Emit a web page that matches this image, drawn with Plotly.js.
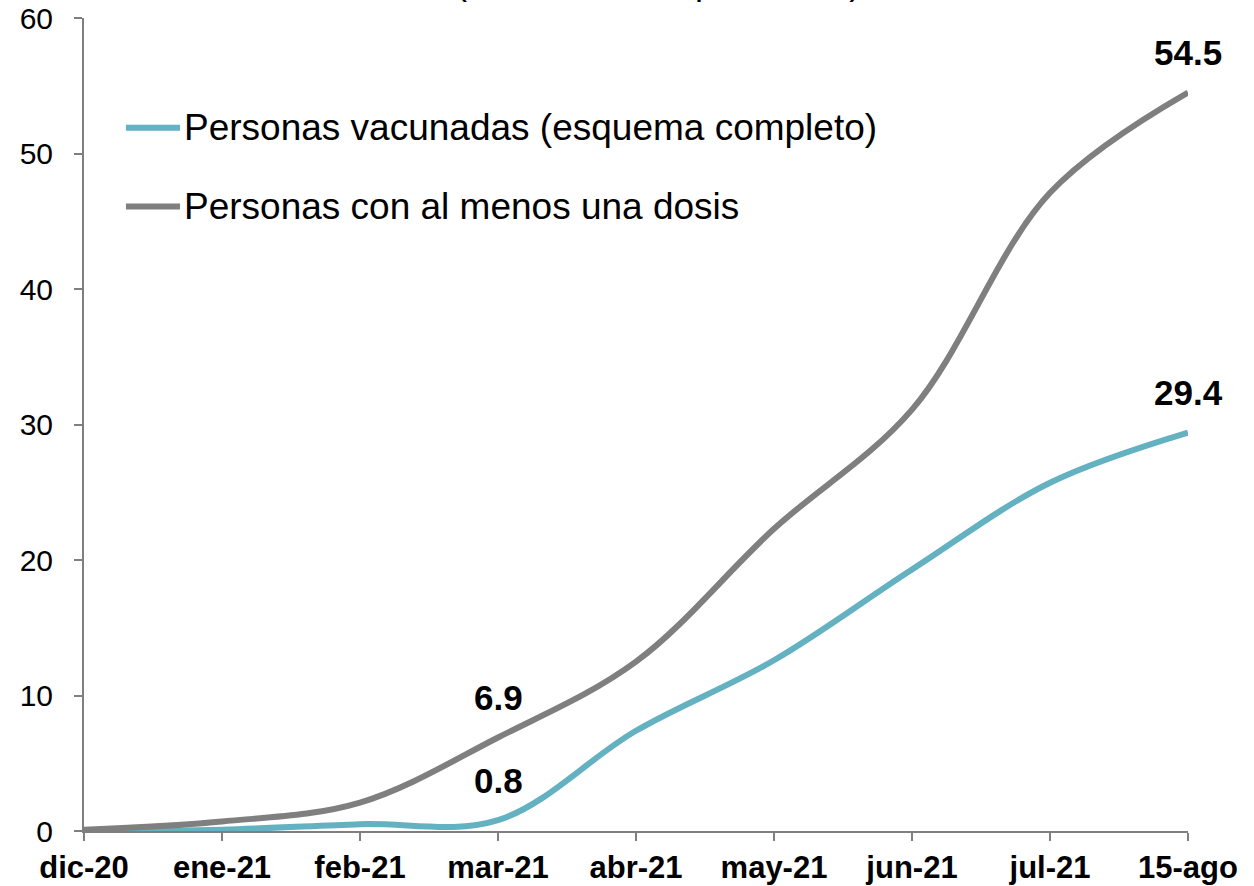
<!DOCTYPE html>
<html>
<head>
<meta charset="utf-8">
<script src="https://cdn.plot.ly/plotly-3.0.1.min.js"></script>
<style>html,body{margin:0;padding:0;background:#fff;}#chart{width:1254px;height:886px;}</style>
</head>
<body>
<div id="chart"></div>
<script>
const categories = ["dic-20","ene-21","feb-21","mar-21","abr-21","may-21","jun-21","jul-21","15-ago"];
const completos = [0.0, 0.1, 0.5, 0.8, 7.4, 12.6, 19.3, 25.7, 29.4];
const unaDosis = [0.1, 0.7, 2.1, 6.9, 12.5, 22.3, 31.1, 47.1, 54.5];
const seriesNames = ["Personas vacunadas (esquema completo)", "Personas con al menos una dosis"];
const labelIdx = [3, 8];
const yTicks = [0, 10, 20, 30, 40, 50, 60];

const cyan = "#64B1C1", gray = "#7F7F7F";
const FONT = "Liberation Sans, Arial, sans-serif";
const xIdx = categories.map((_, i) => i);

const traces = [
  {x: xIdx, y: completos, name: seriesNames[0], type: "scatter", mode: "lines",
   line: {color: cyan, width: 6, shape: "spline", smoothing: 1}, showlegend: false},
  {x: xIdx, y: unaDosis, name: seriesNames[1], type: "scatter", mode: "lines",
   line: {color: gray, width: 6, shape: "spline", smoothing: 1}, showlegend: false}
];

const annotations = [];
labelIdx.forEach(i => {
  [completos, unaDosis].forEach(s => {
    annotations.push({x: i, y: s[i], xref: "x", yref: "y", text: "<b>" + s[i].toFixed(1) + "</b>",
      showarrow: false, yshift: 40, font: {family: FONT, size: 35, color: "#000"}});
  });
});
// custom legend
const legY = [0.865, 0.768];
const shapes = [];
[cyan, gray].forEach((c, k) => {
  shapes.push({type: "line", xref: "paper", yref: "paper", x0: 0.038, x1: 0.087, y0: legY[k], y1: legY[k],
    line: {color: c, width: 6}});
  annotations.push({xref: "paper", yref: "paper", x: 0.089, y: legY[k], xanchor: "left", yanchor: "middle",
    text: seriesNames[k], showarrow: false, font: {family: FONT, size: 37, color: "#000"}});
});
// title (cut off at top of the image, as in the reference)
annotations.push({xref: "paper", yref: "paper", x: 0.52, y: 1.017, xanchor: "center", yanchor: "bottom",
  text: "(como % de la población)", showarrow: false, font: {family: FONT, size: 36, color: "#000"}});

const layout = {
  width: 1254, height: 886,
  margin: {l: 84, r: 66, t: 18, b: 55},
  paper_bgcolor: "#fff", plot_bgcolor: "#fff",
  showlegend: false,
  xaxis: {
    range: [0, 8], tickmode: "array", tickvals: xIdx, ticktext: categories.map(c => "<b>" + c + "</b>"),
    showgrid: false, zeroline: false, showline: true, linecolor: "#7F7F7F", linewidth: 2,
    ticks: "outside", ticklen: 8, tickwidth: 2, tickcolor: "#7F7F7F",
    tickfont: {family: FONT, size: 31, color: "#000"}, fixedrange: true
  },
  yaxis: {
    range: [0, 60], tickmode: "array", tickvals: yTicks, ticktext: yTicks.map(String),
    showgrid: false, zeroline: false, showline: true, linecolor: "#7F7F7F", linewidth: 2,
    ticks: "outside", ticklen: 8, tickwidth: 2, tickcolor: "#7F7F7F", ticklabelstandoff: 15,
    tickfont: {family: FONT, size: 30, color: "#000"}, fixedrange: true
  },
  annotations: annotations,
  shapes: shapes
};

Plotly.newPlot("chart", traces, layout, {displayModeBar: false, staticPlot: true});
</script>
</body>
</html>
